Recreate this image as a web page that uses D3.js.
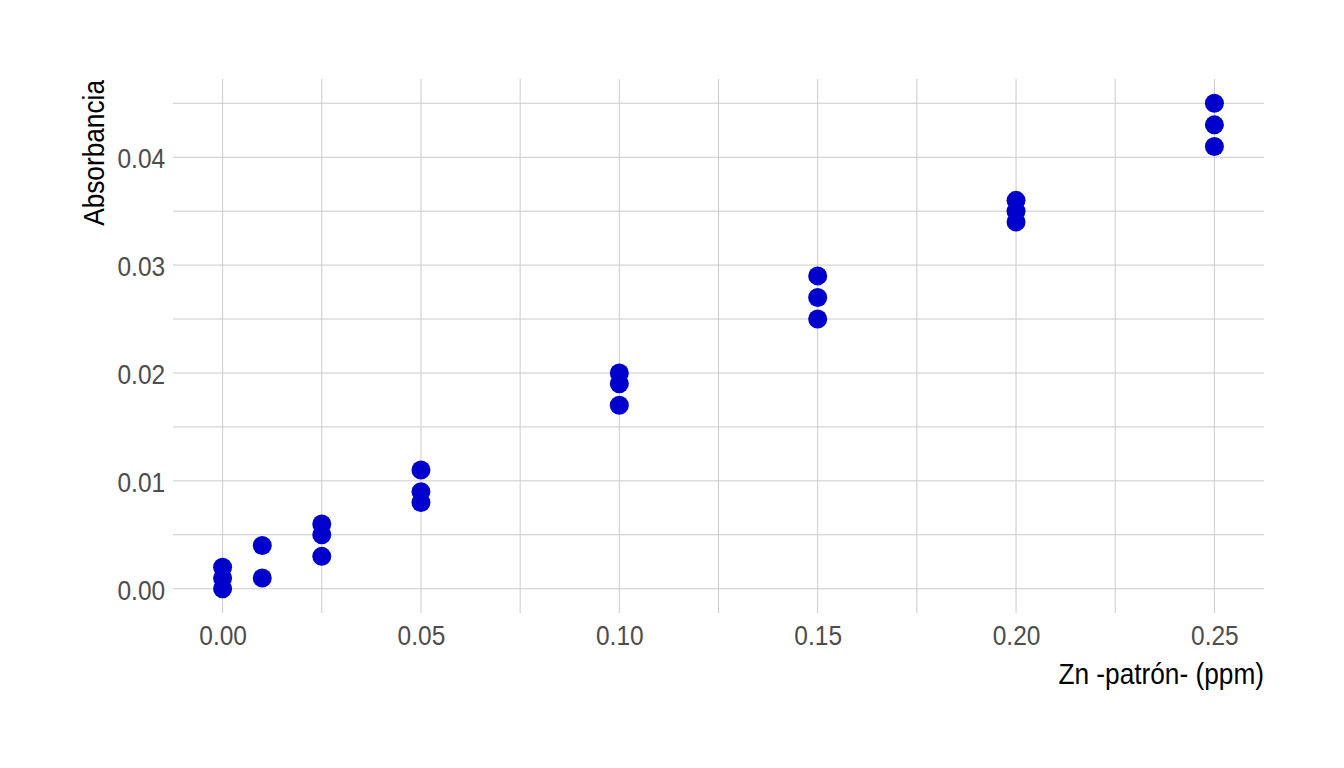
<!DOCTYPE html>
<html><head><meta charset="utf-8">
<script src="https://cdn.jsdelivr.net/npm/d3@7"></script>
<style>body{margin:0;background:#fff}svg{display:block}</style>
</head><body>
<svg id="c" width="1344" height="768"></svg>
<script>
const conc = [0,0,0,0.01,0.01,0.025,0.025,0.025,0.05,0.05,0.05,0.10,0.10,0.10,0.15,0.15,0.15,0.20,0.20,0.20,0.25,0.25,0.25];
const absorb = [0,0.001,0.002,0.001,0.004,0.003,0.005,0.006,0.008,0.009,0.011,0.017,0.019,0.020,0.025,0.027,0.029,0.034,0.035,0.036,0.041,0.043,0.045];
const xTicks = [0,0.05,0.10,0.15,0.20,0.25];
const xMinor = [0.025,0.075,0.125,0.175,0.225];
const yTicks = [0,0.01,0.02,0.03,0.04];
const yMinor = [0.005,0.015,0.025,0.035,0.045];
const xTitle = "Zn -patrón- (ppm)";
const yTitle = "Absorbancia";

const svg = d3.select("#c");
const L=173,R=1264,T=79,B=613;
const SX=0.875;
const x = d3.scaleLinear().domain([-0.0125,0.2625]).range([L,R]);
const y = d3.scaleLinear().domain([-0.00225,0.04725]).range([B,T]);
const font = "'Liberation Sans',Arial,sans-serif";
const grid = "#cbcbcb";
const g = svg.append("g");
g.selectAll(".hm").data(yTicks.concat(yMinor)).join("line")
 .attr("x1",L).attr("x2",R).attr("y1",d=>y(d)).attr("y2",d=>y(d))
 .attr("stroke",grid).attr("stroke-width",1);
g.selectAll(".vm").data(xTicks.concat(xMinor)).join("line")
 .attr("y1",T).attr("y2",B).attr("x1",d=>x(d)).attr("x2",d=>x(d))
 .attr("stroke",grid).attr("stroke-width",1);

const xa = svg.append("g").attr("transform",`translate(0,${B})`)
 .call(d3.axisBottom(x).tickValues(xTicks).tickFormat(d3.format(".2f")).tickSize(0).tickPadding(12));
const ya = svg.append("g").attr("transform",`translate(${L},0)`)
 .call(d3.axisLeft(y).tickValues(yTicks).tickFormat(d3.format(".2f")).tickSize(0).tickPadding(9));
[xa,ya].forEach(a=>{a.select(".domain").remove();
 a.selectAll("text").attr("font-family",font).attr("font-size",28).attr("fill","#4d4d4d")
  .attr("transform",`scale(${SX},1)`);});
ya.selectAll("text").attr("dy","0.38em");

svg.append("g").selectAll("circle").data(conc.map((c,i)=>[c,absorb[i]])).join("circle")
 .attr("cx",d=>x(d[0])).attr("cy",d=>y(d[1])).attr("r",9.5).attr("fill","#0000cd");

svg.append("text").attr("transform",`translate(${R},684) scale(${SX},1)`).attr("text-anchor","end")
 .attr("font-family",font).attr("font-size",30).attr("fill","#000").text(xTitle);
svg.append("text").attr("transform",`translate(104,${T+1}) rotate(-90) scale(${SX},1)`).attr("text-anchor","end")
 .attr("font-family",font).attr("font-size",30).attr("fill","#000").text(yTitle);
</script>
</body></html>
